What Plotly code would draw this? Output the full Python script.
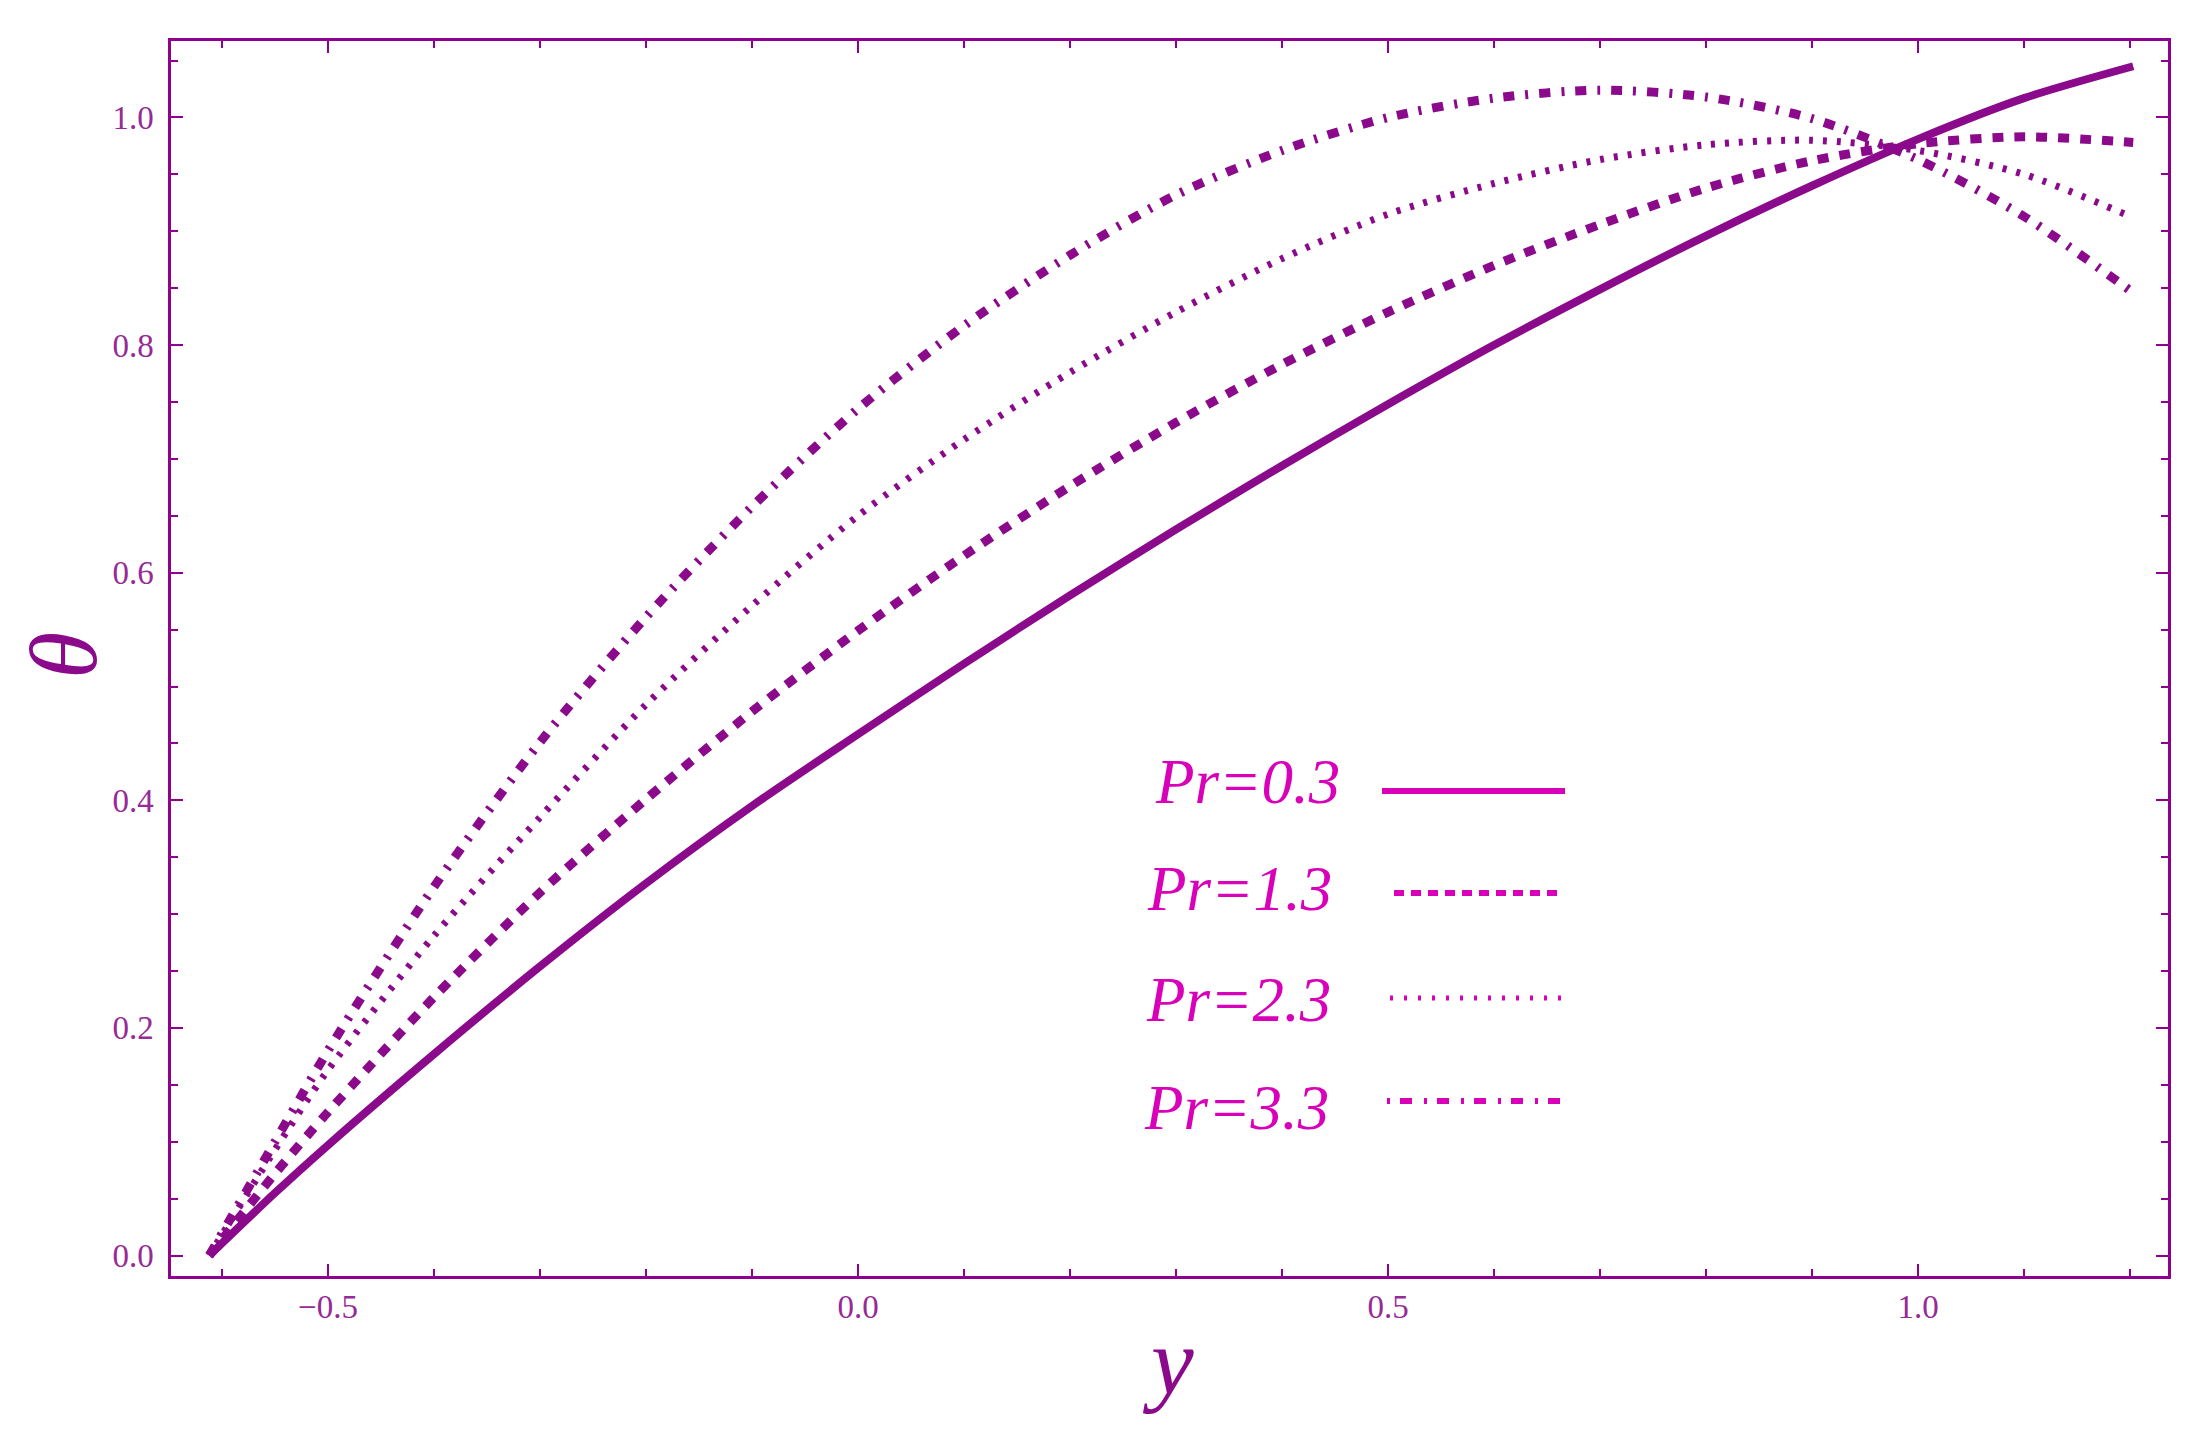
"""
Perfil de temperatura theta(y) para distintos números de Prandtl.
"""

import plotly.graph_objects as go

# posiciones y (eje horizontal)
Y_PUNTOS = [-0.612, -0.55, -0.5, -0.4, -0.3, -0.2, -0.1, 0.0, 0.1, 0.2,
            0.3, 0.4, 0.5, 0.6, 0.7, 0.8, 0.9, 1.0, 1.1, 1.203]

THETA_PR_03 = [0.0, 0.055, 0.097, 0.177, 0.254, 0.327, 0.395, 0.458, 0.520, 0.580,
               0.638, 0.694, 0.748, 0.800, 0.849, 0.896, 0.940, 0.981, 1.017, 1.045]
THETA_PR_13 = [0.0, 0.072, 0.126, 0.227, 0.319, 0.401, 0.478, 0.549, 0.615, 0.676,
               0.732, 0.783, 0.829, 0.870, 0.906, 0.938, 0.962, 0.977, 0.983, 0.978]
THETA_PR_23 = [0.0, 0.093, 0.163, 0.281, 0.385, 0.484, 0.571, 0.650, 0.717, 0.776,
               0.829, 0.876, 0.915, 0.942, 0.963, 0.976, 0.980, 0.971, 0.950, 0.912]
THETA_PR_33 = [0.0, 0.100, 0.180, 0.324, 0.451, 0.561, 0.658, 0.744, 0.817, 0.879,
               0.932, 0.971, 1.000, 1.017, 1.024, 1.018, 0.999, 0.963, 0.913, 0.846]

ETIQUETAS = ["Pr=0.3", "Pr=1.3", "Pr=2.3", "Pr=3.3"]
SERIES = [THETA_PR_03, THETA_PR_13, THETA_PR_23, THETA_PR_33]

COLOR_CURVA = "#8b0a8b"
COLOR_MARCO = "#900090"
COLOR_TICKS = "#962a96"
COLOR_LEYENDA = "#d800b8"
FUENTE = "Liberation Serif, Times New Roman, serif"

# estilo de cada curva: (ancho, guion)
ESTILOS = [
    (8, "solid"),
    (9, "11px,11px"),
    (7, "4px,10px"),
    (9, "11px,11px,3px,11px"),
]
# estilo de la muestra en la leyenda
ESTILOS_LEYENDA = [
    (6, "solid"),
    (6, "10px,7px"),
    (5, "3px,11px"),
    (6, "3px,10px,12px,12px"),
]

# la página deja 8 px de margen en el body: se descuentan del tamaño
DESPLAZ = 8
W, H = 2208 - DESPLAZ, 1440 - DESPLAZ
# área de trazado en coordenadas de pantalla
AREA_X0, AREA_X1, AREA_Y0, AREA_Y1 = 171, 2168, 41, 1276


def _px(x):
    return (x - AREA_X0) / (AREA_X1 - AREA_X0)


def _py(y):
    return (AREA_Y1 - y) / (AREA_Y1 - AREA_Y0)


fig = go.Figure()

for nombre, valores, (ancho, guion) in zip(ETIQUETAS, SERIES, ESTILOS):
    fig.add_trace(
        go.Scatter(
            x=Y_PUNTOS,
            y=valores,
            mode="lines",
            name=nombre,
            line=dict(color=COLOR_CURVA, width=ancho, dash=guion,
                      shape="spline", smoothing=0.8),
            showlegend=False,
        )
    )

# leyenda a mano: texto a la izquierda, muestra de línea a la derecha
filas_leyenda = [
    (1342, 782, 1382, 1565, 791),
    (1334, 889, 1394, 1563, 893),
    (1333, 1000, 1390, 1563, 998),
    (1331, 1108, 1387, 1561, 1101),
]
for nombre, (ancho, guion), (tx, ty, lx0, lx1, ly) in zip(
        ETIQUETAS, ESTILOS_LEYENDA, filas_leyenda):
    fig.add_annotation(
        text=nombre, xref="paper", yref="paper",
        x=_px(tx), y=_py(ty), xanchor="right", yanchor="middle",
        showarrow=False,
        font=dict(family=FUENTE, size=63, color=COLOR_LEYENDA, style="italic"),
    )
    fig.add_shape(
        type="line", xref="paper", yref="paper",
        x0=_px(lx0), x1=_px(lx1), y0=_py(ly), y1=_py(ly),
        line=dict(color=COLOR_LEYENDA, width=ancho, dash=guion),
    )

# títulos de los ejes
fig.add_annotation(
    text="θ", xref="paper", yref="paper", x=_px(63), y=_py(656),
    xanchor="center", yanchor="middle", textangle=-90, showarrow=False,
    font=dict(family=FUENTE, size=96, color=COLOR_CURVA, style="italic"),
)
fig.add_annotation(
    text="y", xref="paper", yref="paper", x=_px(1168), y=_py(1361),
    xanchor="center", yanchor="middle", showarrow=False,
    font=dict(family=FUENTE, size=96, color=COLOR_CURVA, style="italic"),
)

eje_comun = dict(
    showline=True,
    linecolor=COLOR_MARCO,
    linewidth=2.5,
    mirror="allticks",
    ticks="inside",
    ticklen=12,
    tickwidth=2,
    tickcolor=COLOR_MARCO,
    showgrid=False,
    zeroline=False,
    tickformat=".1f",
    tickfont=dict(family=FUENTE, size=33, color=COLOR_TICKS),
)

fig.update_layout(
    width=W,
    height=H,
    margin=dict(l=AREA_X0 - DESPLAZ, r=2208 - AREA_X1,
                t=AREA_Y0 - DESPLAZ, b=1440 - AREA_Y1),
    plot_bgcolor="white",
    paper_bgcolor="white",
    showlegend=False,
    xaxis=dict(
        eje_comun,
        range=[-0.6481, 1.2358],
        tick0=0,
        dtick=0.5,
        ticklabelstandoff=0,
        minor=dict(dtick=0.1, tick0=0, ticks="inside", ticklen=7,
                   tickwidth=1.5, tickcolor=COLOR_MARCO),
    ),
    yaxis=dict(
        eje_comun,
        range=[-0.0180, 1.0672],
        tick0=0,
        dtick=0.2,
        ticklabelstandoff=8,
        minor=dict(dtick=0.05, tick0=0, ticks="inside", ticklen=7,
                   tickwidth=1.5, tickcolor=COLOR_MARCO),
    ),
)

fig.write_html("out.html")
